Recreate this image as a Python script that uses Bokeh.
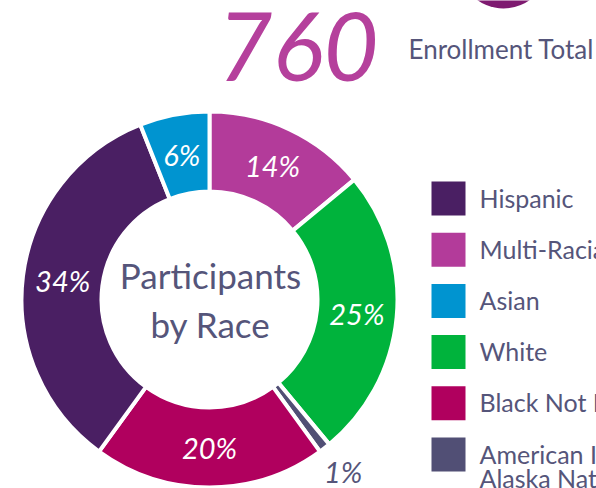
import numpy as np
from bokeh.plotting import figure
from bokeh.models import Range1d, ColumnDataSource
from bokeh.core.properties import value
from bokeh.embed import file_html
from bokeh.resources import INLINE

# ---- data ----
slice_names = ["Multi-Racial", "White", "American Indian or Alaska Native",
               "Black Not Hispanic", "Hispanic", "Asian"]
slice_pct = [14, 25, 1, 20, 34, 6]
slice_colors = ["#b33b9a", "#00b33c", "#514f75", "#b0005e", "#4a1f63", "#0094d0"]

legend_labels = ["Hispanic", "Multi-Racial", "Asian", "White",
                 "Black Not Hispanic", "American Indian or\nAlaska Native"]
legend_colors = ["#4a1f63", "#b33b9a", "#0094d0", "#00b33c", "#b0005e", "#514f75"]

enrollment_total = 760
center_title = "Participants\nby Race"

TEXT_COL = "#55557a"
FONT = "Lato"

W, H = 596, 488
def Y(py):  # page y -> data y
    return H - py

p = figure(width=W, height=H, x_range=Range1d(0, W), y_range=Range1d(0, H),
           output_backend="svg", toolbar_location=None, min_border=0,
           x_axis_location=None, y_axis_location=None)
p.grid.visible = False
p.outline_line_color = None
p.background_fill_color = "white"

# decorative circle at top (cut off)
p.circle(x=[503], y=[Y(-37)], radius=45, fill_color="#7e1a70", line_color=None)

# ---- donut ----
cx, cy = 209, Y(299)
pct = np.array(slice_pct, dtype=float)
cum_end = np.cumsum(pct)
cum_start = cum_end - pct
start = np.radians(90 - cum_end * 3.6)
end = np.radians(90 - cum_start * 3.6)
mid = (start + end) / 2

src = ColumnDataSource(dict(start=start, end=end, color=slice_colors, name=slice_names))
p.annular_wedge(x=cx, y=cy, inner_radius=108, outer_radius=188,
                start_angle="start", end_angle="end", direction="anticlock",
                fill_color="color", line_color="white", line_width=4, source=src)

small = pct < 2
lab_r = np.where(small, 218, 148)
lab_src = ColumnDataSource(dict(
    x=cx + lab_r * np.cos(mid), y=cy + lab_r * np.sin(mid),
    t=[f"{int(v)}%" for v in slice_pct],
    c=[TEXT_COL if s else "white" for s in small]))
p.text(x="x", y="y", text="t", text_color="c", source=lab_src,
       text_font=value(FONT), text_font_style="italic", text_font_size="29px",
       text_align="center", text_baseline="middle")

# center title
p.text(x=[cx + 1], y=[Y(299)], text=[center_title], text_font=value(FONT),
       text_font_size="35px", text_color=TEXT_COL, text_align="center",
       text_baseline="middle", text_line_height=1.15)

# ---- header ----
p.text(x=[378], y=[Y(46)], text=[str(enrollment_total)], text_font=value(FONT),
       text_font_style="italic", text_font_size="95px", text_color="#b5409c",
       text_align="right", text_baseline="middle")
p.text(x=[408], y=[Y(48)], text=["Enrollment Total"], text_font=value(FONT),
       text_font_size="26px", text_color=TEXT_COL, text_align="left",
       text_baseline="middle")

# ---- legend ----
n = len(legend_labels)
ly = np.array([Y(198 + i * 51.2) for i in range(n)])
leg = ColumnDataSource(dict(x=[448] * n, y=ly, c=legend_colors,
                            tx=[479] * n, ty=ly + 16, t=legend_labels))
p.rect(x="x", y="y", width=34, height=34, fill_color="c", line_color=None, source=leg)
p.text(x="tx", y="ty", text="t", source=leg, text_font=value(FONT),
       text_font_size="25px", text_color=TEXT_COL, text_align="left",
       text_baseline="top", text_line_height=0.8)

open("out.html", "w").write(file_html(p, INLINE))
